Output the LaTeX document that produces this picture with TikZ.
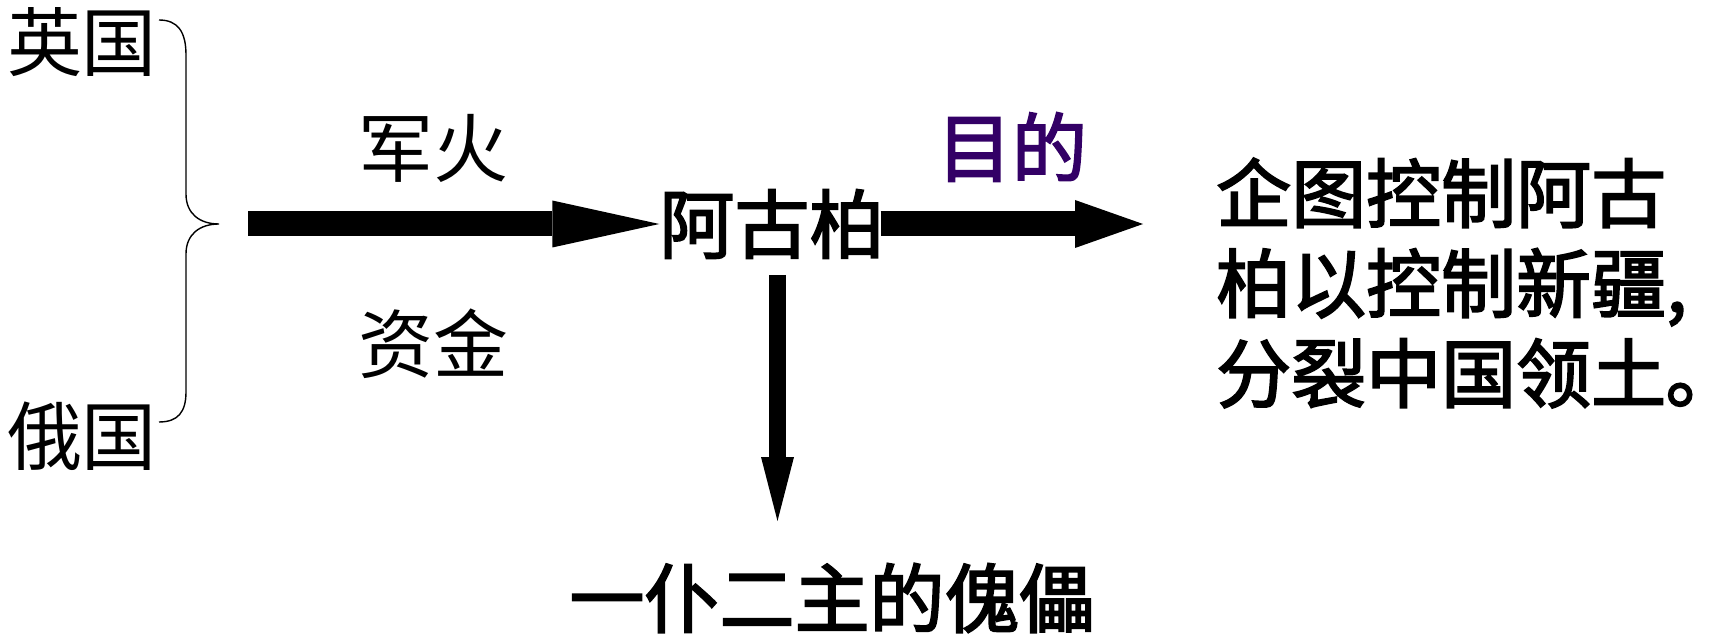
\documentclass[tikz,border=0pt]{standalone}
\usepackage{fontspec}
\usetikzlibrary{arrows.meta}
\newfontfamily\cjk{Noto Sans CJK SC}
\newfontfamily\cjkb{Noto Sans CJK SC}[FakeBold=2.5]
\definecolor{aimpurple}{RGB}{51,0,102}
\begin{document}
\begin{tikzpicture}[x=1pt,y=-1pt,
  thin label/.style={inner sep=0pt,font=\cjk\fontsize{75}{80}\selectfont},
  bold label/.style={inner sep=0pt,font=\cjkb\fontsize{75}{90}\selectfont}]
\useasboundingbox[fill=white] (0,0) rectangle (1717,639);
% labels
\node[thin label] (uk) at (82,42) {英国};
\node[thin label] (ru) at (82,436) {俄国};
\node[thin label] (arms) at (433,148) {军火};
\node[thin label] (money) at (433,344) {资金};
\node[bold label] (agb) at (772,224) {阿古柏};
\node[bold label,text=aimpurple] (aim) at (1012,147) {目的};
\node[bold label,align=left,anchor=west] (goal) at (1216,283)
  {企图控制阿古\\柏以控制新疆,\\分裂中国领土｡};
\node[bold label] (puppet) at (832,598) {一仆二主的傀儡};
% brace
\draw[line width=1.4pt] (159,20) .. controls (178,20) and (186,32) .. (186,55)
  -- (186,194) .. controls (186,214) and (200,224) .. (219,224)
  .. controls (200,224) and (186,234) .. (186,254)
  -- (186,392) .. controls (186,412) and (178,422) .. (159,422);
% arrows
\coordinate (s1) at (248,224);
\coordinate (e2) at (1143,224);
\draw[line width=25pt,-{Triangle[length=107pt,width=47pt,line width=0pt]}] (s1) -- (agb.west);
\draw[line width=25pt,-{Triangle[length=68pt,width=48pt,line width=0pt]}] ([xshift=-4pt]agb.east) -- (e2);
\coordinate (s3) at (777.5,275);
\coordinate (e3) at (777.5,521);
\draw[line width=17pt,-{Triangle[length=64pt,width=33pt,line width=0pt]}] (s3) -- (e3);
\end{tikzpicture}
\end{document}
